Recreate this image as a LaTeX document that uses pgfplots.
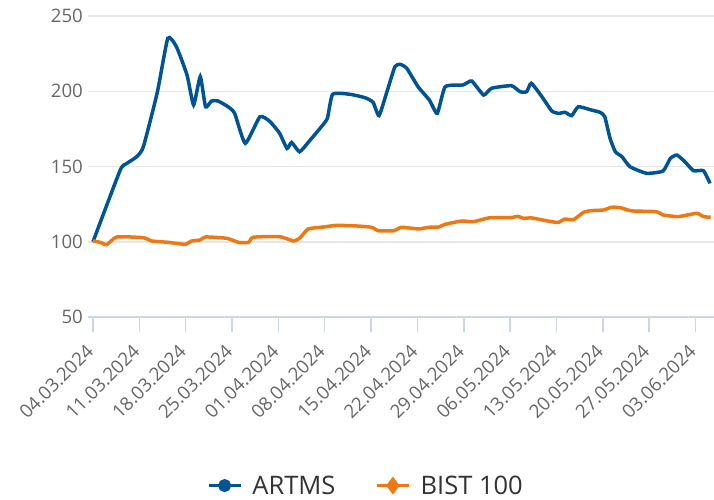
\documentclass[border=0pt]{standalone}
\usepackage{fontspec}
\setmainfont{Open Sans}
\usepackage{pgfplots}
\pgfplotsset{compat=1.18}
\definecolor{artms}{RGB}{0,84,147}
\definecolor{bist}{RGB}{239,120,18}
\definecolor{axisc}{RGB}{204,214,235}
\definecolor{gridc}{RGB}{230,230,230}
\definecolor{labc}{RGB}{102,102,102}
\definecolor{textc}{RGB}{51,51,51}
\begin{document}
\begin{tikzpicture}
\begin{axis}[
  at={(0,0)}, anchor=south west,
  scale only axis, width=626pt, height=301pt,
  xmin=-0.755, xmax=93.8, ymin=50, ymax=250,
  xtick={0,7,...,91},
  xticklabels={04.03.2024,11.03.2024,18.03.2024,25.03.2024,01.04.2024,08.04.2024,15.04.2024,22.04.2024,29.04.2024,06.05.2024,13.05.2024,20.05.2024,27.05.2024,03.06.2024},
  ytick={50,100,...,250},
  axis x line*=bottom, axis y line*=left,
  every outer x axis line/.append style={draw=axisc, line width=1.5pt},
  every outer y axis line/.append style={draw=none},
  x axis line style={-}, y axis line style={-},
  tick align=outside,
  xtick style={draw=axisc, line width=1.5pt},
  ytick style={draw=none},
  major tick length=15pt,
  ymajorgrids, grid style={draw=gridc, line width=1.5pt},
  /pgf/number format/assume math mode=true,
  ticklabel style={font=\fontsize{18.6}{20}\selectfont, text=labc},
  yticklabel style={inner sep=0pt, xshift=10pt},
  xticklabel style={xshift=-3pt, yshift=-16pt, rotate=45, anchor=east, inner sep=0pt},
  legend style={at={(0.444,-0.56)}, anchor=center, draw=none, fill=none,
    font=\fontsize{25.5}{28}\selectfont, text=textc,
    /tikz/every even column/.append style={column sep=38pt}},
  legend columns=2, legend cell align=left,
]
\addplot[artms, line width=3.5pt, smooth, tension=0.3,
  legend image code/.code={\draw[artms, line width=3pt, mark=*, mark size=5pt, mark repeat=2, mark phase=2] plot coordinates {(0pt,0pt) (16pt,0pt) (32pt,0pt)}; \path (40pt,0pt);}]
  coordinates {
(0,100) (4.1,147.5) (5.1,152) (6.6,156.5) (7.6,163) (9.7,199) (11.3,235.2)
(12.6,229.6) (14.2,210.8) (15.2,190.9) (16.2,209.7) (17,189.7) (17.9,193.5) (18.9,193.5)
(20.4,189.7) (21.4,185.3) (23,165.4) (25.2,183) (26.7,180) (28.2,172) (29.3,162) (30,166)
(31.2,159.8) (32.6,166.5) (34.3,175.4) (35.4,182) (36.2,198) (38.8,198) (41.1,195.7)
(42.3,192.7) (43.2,183.8) (44.4,199.7) (45.6,216.3) (46.4,217.9) (47.4,215.2) (49.1,203)
(50.8,194.2) (52,185.3) (53.2,203) (55.9,204.2) (57.2,206.8) (59,197.5) (60.2,202)
(63.2,203.7) (64.5,199.7) (65.5,199.7) (66.2,205.3) (67.8,196.4) (69.3,186.9) (70.3,185.3)
(71.3,186) (72.3,183.8) (73.3,189.7) (75.3,187.5) (76.6,186) (77.3,183.1) (78.1,168.7)
(78.9,159.8) (79.9,156.5) (81.1,149.9) (83.6,145.5) (86.1,147) (87.2,155.4) (88.2,157.6)
(89.4,153.2) (90.7,147.2) (92.2,147.2) (93.2,138.8)
};
\addlegendentry{ARTMS}
\addplot[bist, line width=3.5pt, smooth, tension=0.3,
  legend image code/.code={\draw[bist, line width=3pt, mark=diamond*, mark size=6.5pt, mark repeat=2, mark phase=2] plot coordinates {(0pt,0pt) (16pt,0pt) (32pt,0pt)}; \path (40pt,0pt);}]
  coordinates {
(0,100.5) (1.2,99.5) (2.05,98) (3.6,103.2) (7.6,102.7) (8.9,100.5) (11.4,99.6) (13.9,98.3)
(14.9,100.5) (16.2,101.2) (17,103.2) (20.2,102.3) (22,99.6) (23.5,99.6) (24.2,103)
(28.2,103.4) (30.3,100.5) (31.3,102.7) (32.5,108.5) (34.8,109.8) (36.8,110.9) (39.8,110.5)
(42.1,109.6) (43.1,107.3) (45.4,107.3) (46.6,109.6) (49.2,108.5) (50.7,109.6) (52.2,109.8)
(53.2,111.6) (55.7,113.8) (57.4,113.3) (60,116) (63,116) (64.2,116.9) (65,115.6) (66.3,115.8)
(69.3,113.3) (70.3,112.9) (71.3,115.1) (72.6,114.7) (74.1,119.6) (75.3,120.7) (77.1,121.1)
(78.3,122.9) (79.6,122.7) (81.4,120.5) (85.1,120) (86.1,117.8) (88.4,116.7) (91.2,118.9)
(92.2,116.7) (93.3,116.3)
};
\addlegendentry{BIST 100}
\end{axis}
\pgfresetboundingbox
\useasboundingbox (-88pt,-182pt) rectangle (626pt,317pt);
\end{tikzpicture}
\end{document}
